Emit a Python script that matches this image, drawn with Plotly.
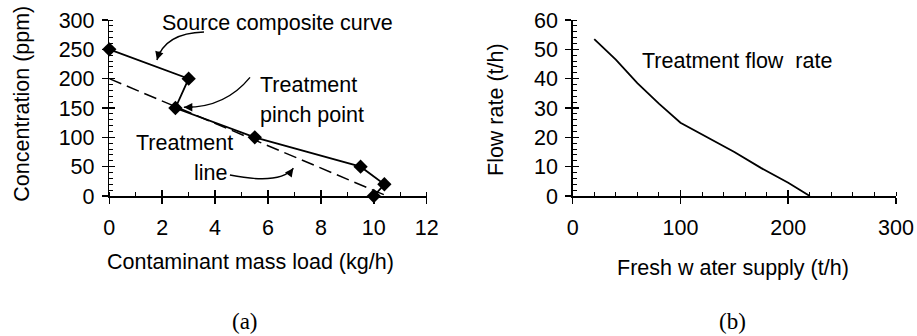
import plotly.graph_objects as go

# ---- data (panel a) ----
load_kg_h = [0, 3, 2.5, 5.5, 9.5, 10.4, 10]
conc_ppm = [250, 200, 150, 100, 50, 20, 0]
treat_load = [0, 10.5]
treat_conc = [200, 0]

# ---- data (panel b) ----
fresh_water = [20, 40, 60, 80, 100, 150, 175, 200, 220]
treat_flow = [53.5, 46.5, 38.5, 31.5, 25, 15, 9.5, 4.5, 0]

W, H = 917, 336
FONT = "Arial, Liberation Sans, sans-serif"
FS = 21.5

def px_x(p):
    return p / W

def px_y(p):
    return 1 - p / H

xa_dom = [px_x(109.3), px_x(426.7)]
xb_dom = [px_x(572.7), px_x(896.0)]
y_dom = [px_y(196), px_y(20)]

fig = go.Figure()

# panel a
fig.add_trace(go.Scatter(x=treat_load, y=treat_conc, mode="lines",
                         line=dict(color="black", width=1.5, dash="13px,6px"),
                         xaxis="x", yaxis="y", cliponaxis=False, showlegend=False))
fig.add_trace(go.Scatter(x=load_kg_h, y=conc_ppm, mode="lines+markers",
                         line=dict(color="black", width=1.8),
                         marker=dict(symbol="diamond", size=11, color="black"),
                         xaxis="x", yaxis="y", cliponaxis=False, showlegend=False))
# panel b
fig.add_trace(go.Scatter(x=fresh_water, y=treat_flow, mode="lines",
                         line=dict(color="black", width=1.8),
                         xaxis="x2", yaxis="y2", cliponaxis=False, showlegend=False))
# empty traces for the overlay (inside-tick) axes
fig.add_trace(go.Scatter(x=[], y=[], xaxis="x3", yaxis="y3", showlegend=False))
fig.add_trace(go.Scatter(x=[], y=[], xaxis="x4", yaxis="y4", showlegend=False))

tickfont = dict(family=FONT, size=FS, color="black")

def main_axis(dom, rng, dtick, minor_dtick, anchor, standoff):
    return dict(domain=dom, range=rng, dtick=dtick, tick0=0, anchor=anchor,
                showline=True, linecolor="black", linewidth=1.5,
                ticks="outside", ticklen=6, tickwidth=1.5, tickcolor="black",
                minor=dict(dtick=minor_dtick, ticks="inside", ticklen=4,
                           tickwidth=1, tickcolor="black", showgrid=False),
                showgrid=False, zeroline=False, tickfont=tickfont,
                ticklabelstandoff=standoff, fixedrange=True, automargin=False)

def overlay_axis(rng, dtick, over, anchor):
    return dict(range=rng, dtick=dtick, tick0=0, overlaying=over, anchor=anchor,
                showline=False, ticks="inside", ticklen=6, tickwidth=1.5,
                tickcolor="black", showticklabels=False, showgrid=False,
                zeroline=False, fixedrange=True, automargin=False)

layout = dict(
    template="none",
    width=W, height=H, margin=dict(l=0, r=0, t=0, b=0, pad=0), autosize=False,
    paper_bgcolor="white", plot_bgcolor="rgba(0,0,0,0)",
    font=dict(family=FONT, size=FS, color="black"),
    xaxis=main_axis(xa_dom, [0, 12], 2, 1, "y", 6),
    yaxis=main_axis(y_dom, [0, 300], 50, 10, "x", 3),
    xaxis2=main_axis(xb_dom, [0, 300], 100, 20, "y2", 6),
    yaxis2=main_axis(y_dom, [0, 60], 10, 2, "x2", 3),
)
layout["xaxis3"] = dict(overlay_axis([0, 12], 2, "x", "y3"), domain=xa_dom)
layout["yaxis3"] = dict(overlay_axis([0, 300], 50, "y", "x3"), domain=y_dom)
layout["xaxis4"] = dict(overlay_axis([0, 300], 100, "x2", "y4"), domain=xb_dom)
layout["yaxis4"] = dict(overlay_axis([0, 60], 10, "y2", "x4"), domain=y_dom)
fig.update_layout(**layout)

ann = []
def txt(text, x, y, xref, yref, xanchor="left", size=FS, family=FONT):
    ann.append(dict(text=text, x=x, y=y, xref=xref, yref=yref, showarrow=False,
                    xanchor=xanchor, yanchor="middle",
                    font=dict(family=family, size=size, color="black")))

# panel a labels
txt("Source composite curve", 1.92, 295, "x", "y")
txt("Treatment", 5.63, 189, "x", "y")
txt("pinch point", 5.63, 138, "x", "y")
txt("Treatment", 0.945, 91, "x", "y")
txt("line", 4.54, 40, "x", "y", xanchor="right")
# panel b label
txt("Treatment flow&nbsp;&nbsp;rate", 62.4, 46, "x2", "y2")

# axis titles
txt("Contaminant mass load (kg/h)", px_x(250.8), px_y(261.7), "paper", "paper", xanchor="center")
txt("Fresh w ater supply (t/h)", px_x(733.3), px_y(268), "paper", "paper", xanchor="center")
ann.append(dict(text="Concentration (ppm)", x=px_x(21.7), y=px_y(104), xref="paper", yref="paper",
                showarrow=False, textangle=-90, xanchor="center", yanchor="middle",
                font=dict(family=FONT, size=FS, color="black")))
ann.append(dict(text="Flow rate (t/h)", x=px_x(496), y=px_y(110), xref="paper", yref="paper",
                showarrow=False, textangle=-90, xanchor="center", yanchor="middle",
                font=dict(family=FONT, size=FS, color="black")))
# panel captions
txt("(a)", px_x(245), px_y(321.5), "paper", "paper", xanchor="center", size=23,
    family="Times New Roman, Liberation Serif, serif")
txt("(b)", px_x(732.8), px_y(321.5), "paper", "paper", xanchor="center", size=23,
    family="Times New Roman, Liberation Serif, serif")

# arrowheads
for (x, y, ax, ay) in [(1.80, 231.8, 3, -10), (2.82, 151.2, 10, 0), (6.96, 47.2, -6, 8)]:
    ann.append(dict(x=x, y=y, xref="x", yref="y", ax=ax, ay=ay, axref="pixel", ayref="pixel",
                    text="", showarrow=True, arrowhead=2, arrowsize=1.2, arrowwidth=1.4,
                    arrowcolor="black"))
fig.update_layout(annotations=ann)

# curved arrow shafts
for path in ["M 3.58,279.5 Q 2.11,277.8 1.80,231.8",
             "M 5.32,202.3 Q 4.37,150 2.82,151.2",
             "M 4.56,35.8 Q 6.45,18.7 6.96,47.2"]:
    fig.add_shape(type="path", path=path, xref="x", yref="y",
                  line=dict(color="black", width=1.4))

fig.write_html("out.html", config={"displayModeBar": False, "staticPlot": True},
               post_script="document.body.style.margin='0px';document.body.style.overflow='hidden';")
